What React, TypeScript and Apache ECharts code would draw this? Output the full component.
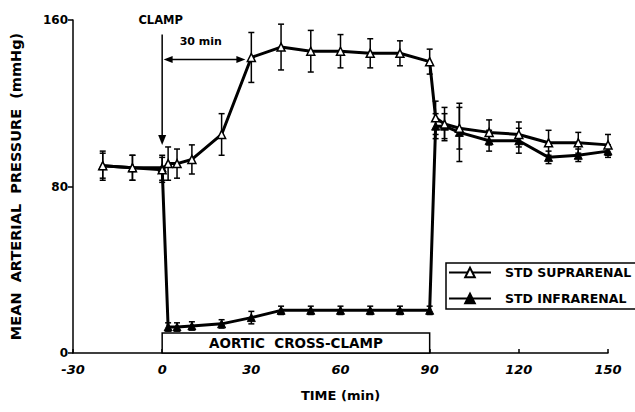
import React, { useEffect, useRef } from "react";
import * as echarts from "echarts";

const times = [-20, -10, 0, 2, 5, 10, 20, 30, 40, 50, 60, 70, 80, 90, 92, 95, 100, 110, 120, 130, 140, 150];
const supra = [90, 89, 88, 91, 91, 93, 105, 142, 147, 145, 145, 144, 144, 140, 113, 110, 108, 106, 105, 101, 101, 100];
const supraErr = [6, 6, 6, 8, 7, 7, 10, 12, 11, 10, 8, 7, 6, 6, 8, 8, 10, 6, 6, 6, 5, 5];
const infra = [90, 89, 89, 12.5, 12.5, 13, 14, 17, 20.5, 20.5, 20.5, 20.5, 20.5, 20.5, 109, 109, 106, 102, 102, 94, 95, 97];
const infraErr = [7, 6, 6, 2, 2, 2, 2, 3, 2, 2, 2, 2, 2, 2, 6, 6, 14, 5, 6, 3, 3, 3];
const xTicks = [-30, 0, 30, 60, 90, 120, 150];
const yTicks = [0, 80, 160];
const seriesNames = ["STD SUPRARENAL", "STD INFRARENAL"];

// annotation anchors in data units [time, pressure]
const clampLabelAt = [-0.5, 160];
const clampArrow = [[0, 153], [0, 100]];
const spanLabelAt = [13, 149.5];
const spanArrow = [[0.5, 141], [28, 141]];

const FONT = "'DejaVu Sans', 'Liberation Sans', Arial, sans-serif";

function errData(vals: number[], errs: number[]) {
  return times.map((t, i) => [t, vals[i] - errs[i], vals[i] + errs[i]]);
}

function errRender(params: any, api: any) {
  const x = api.value(0);
  const lo = api.coord([x, api.value(1)]);
  const hi = api.coord([x, api.value(2)]);
  const cap = 3;
  const style = { stroke: "#000", lineWidth: 1.5 };
  return {
    type: "group",
    children: [
      { type: "line", shape: { x1: lo[0], y1: lo[1], x2: hi[0], y2: hi[1] }, style },
      { type: "line", shape: { x1: lo[0] - cap, y1: lo[1], x2: lo[0] + cap, y2: lo[1] }, style },
      { type: "line", shape: { x1: hi[0] - cap, y1: hi[1], x2: hi[0] + cap, y2: hi[1] }, style },
    ],
  };
}

function arrowHead(tip: number[], from: number[], len = 9, half = 3.5) {
  const dx = tip[0] - from[0];
  const dy = tip[1] - from[1];
  const d = Math.sqrt(dx * dx + dy * dy) || 1;
  const ux = dx / d;
  const uy = dy / d;
  const bx = tip[0] - ux * len;
  const by = tip[1] - uy * len;
  return {
    type: "polygon",
    shape: { points: [tip, [bx - uy * half, by + ux * half], [bx + uy * half, by - ux * half]] },
    style: { fill: "#000" },
  };
}

function annRender(params: any, api: any) {
  const txt = { fill: "#000", fontFamily: FONT, fontWeight: "bold", fontSize: 11, align: "center", verticalAlign: "middle" };
  const cl = api.coord(clampLabelAt);
  const c0 = api.coord(clampArrow[0]);
  const c1 = api.coord(clampArrow[1]);
  const sl = api.coord(spanLabelAt);
  const s0 = api.coord(spanArrow[0]);
  const s1 = api.coord(spanArrow[1]);
  const ls = { stroke: "#000", lineWidth: 1.5 };
  return {
    type: "group",
    children: [
      { type: "text", x: cl[0], y: cl[1], style: { ...txt, fontSize: 11.5, text: "CLAMP" } },
      { type: "line", shape: { x1: c0[0], y1: c0[1], x2: c1[0], y2: c1[1] - 6 }, style: ls },
      arrowHead(c1, c0, 10, 4),
      { type: "text", x: sl[0], y: sl[1], style: { ...txt, text: "30 min" } },
      { type: "line", shape: { x1: s0[0] + 6, y1: s0[1], x2: s1[0] - 6, y2: s1[1] }, style: ls },
      arrowHead(s0, s1, 9, 3.5),
      arrowHead(s1, s0, 9, 3.5),
    ],
  };
}

export default function App() {
  const ref = useRef<HTMLDivElement>(null);
  useEffect(() => {
    if (!ref.current) return;
    const chart = echarts.init(ref.current, null, { renderer: "svg" });
    const labelStyle = { color: "#000", fontFamily: FONT, fontWeight: "bold" };
    const option: any = {
      animation: false,
      backgroundColor: "#fff",
      textStyle: { fontFamily: FONT },
      grid: { left: 72, right: 27, top: 20, bottom: 59 },
      legend: {
        orient: "vertical",
        left: 446,
        top: 263,
        data: seriesNames,
        itemWidth: 42,
        itemHeight: 12,
        itemGap: 13,
        padding: [3, 18, 4, 2],
        borderColor: "#000",
        borderWidth: 1.5,
        borderRadius: 0,
        backgroundColor: "#fff",
        textStyle: { ...labelStyle, fontSize: 12.5, padding: [0, 0, 0, 9] },
      },
      xAxis: {
        type: "value",
        min: -30,
        max: 150,
        interval: 30,
        name: "TIME (min)",
        nameLocation: "middle",
        nameGap: 36,
        nameTextStyle: { ...labelStyle, fontSize: 13 },
        axisLine: { onZero: false, lineStyle: { color: "#000", width: 1.5 } },
        axisTick: { inside: true, length: 4, lineStyle: { color: "#000", width: 1.5 } },
        axisLabel: {
          ...labelStyle,
          fontStyle: "italic",
          fontSize: 13,
          margin: 10,
          customValues: xTicks,
        },
        splitLine: { show: false },
      },
      yAxis: {
        type: "value",
        min: 0,
        max: 160,
        interval: 80,
        name: "MEAN  ARTERIAL  PRESSURE  (mmHg)",
        nameLocation: "middle",
        nameGap: 50,
        nameTextStyle: { ...labelStyle, fontSize: 14.5 },
        axisLine: { show: true, onZero: false, lineStyle: { color: "#000", width: 1.5 } },
        axisTick: { show: true, length: 5, lineStyle: { color: "#000", width: 1.5 } },
        axisLabel: { ...labelStyle, fontSize: 12, margin: 5, customValues: yTicks },
        splitLine: { show: false },
      },
      series: [
        {
          type: "custom",
          name: "annotations",
          renderItem: annRender,
          data: [[0, 0]],
          z: 2,
          silent: true,
          clip: false,
        },
        {
          type: "custom",
          name: "supraErr",
          renderItem: errRender,
          data: errData(supra, supraErr),
          z: 3,
          silent: true,
        },
        {
          type: "custom",
          name: "infraErr",
          renderItem: errRender,
          data: errData(infra, infraErr),
          z: 3,
          silent: true,
        },
        {
          type: "line",
          name: seriesNames[1],
          data: times.map((t, i) => [t, infra[i]]),
          symbol: "triangle",
          symbolSize: 8,
          lineStyle: { color: "#000", width: 3 },
          itemStyle: { color: "#000", borderColor: "#000", borderWidth: 1 },
          z: 4,
          markArea: {
            silent: true,
            itemStyle: { color: "#fff", borderColor: "#000", borderWidth: 1.5 },
            label: {
              show: true,
              position: "inside",
              formatter: "AORTIC  CROSS-CLAMP",
              ...labelStyle,
              fontSize: 13.5,
            },
            data: [[{ coord: [0, 0] }, { coord: [90, 9.6] }]],
          },
        },
        {
          type: "line",
          name: seriesNames[0],
          data: times.map((t, i) => [t, supra[i]]),
          symbol: "triangle",
          symbolSize: 8,
          lineStyle: { color: "#000", width: 3 },
          itemStyle: { color: "#fff", borderColor: "#000", borderWidth: 1.5 },
          z: 5,
        },
      ],
    };
    chart.setOption(option);
    return () => chart.dispose();
  }, []);
  return <div ref={ref} style={{ width: 635, height: 412, position: "absolute", left: 0, top: 0 }} />;
}
